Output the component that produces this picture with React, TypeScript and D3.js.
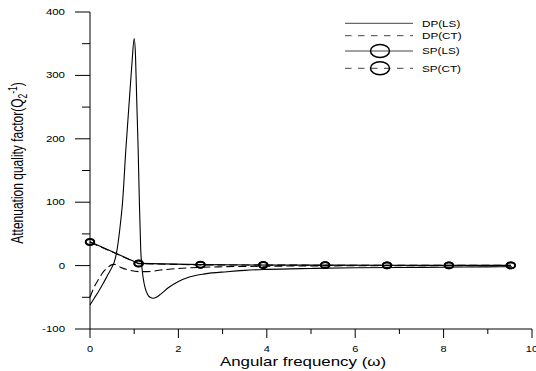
import React from "react";
import * as d3 from "d3";

const dpLsW = [0, 0.1, 0.2, 0.3, 0.4, 0.5, 0.55, 0.6, 0.67, 0.74, 0.81, 0.89, 0.95, 1.0, 1.03, 1.057, 1.09, 1.116, 1.148, 1.17, 1.2, 1.25, 1.3, 1.36, 1.43, 1.5, 1.6, 1.77, 2.0, 2.2, 2.6, 3.1, 3.5, 4, 5, 6, 7, 8, 9, 9.55];
const dpLsV = [-62, -51, -40, -28, -15, -2, 6, 20, 55, 103, 182, 261, 320, 358, 330, 261, 182, 103, 25, 1, -18, -36, -45, -50, -51.5, -50, -45, -35, -25, -19, -13, -9.6, -7.5, -6, -4.5, -3.5, -3, -2.5, -2, -1.8];

const dpCtW = [0, 0.1, 0.2, 0.3, 0.4, 0.5, 0.55, 0.7, 0.9, 1.1, 1.3, 1.6, 2.0, 2.5, 3, 4, 5, 6, 7, 8, 9, 9.55];
const dpCtV = [-50, -33, -21, -10, -3, 1.5, 2, -3, -7.5, -9.5, -9.5, -7, -4.5, -2.8, -1.8, -1, -0.5, -0.3, -0.2, -0.1, 0, 0];

const spW = [0, 1.1, 2.5, 3.92, 5.32, 6.72, 8.12, 9.52];
const spLsV = [37.5, 3.5, 1.5, 1, 0.7, 0.5, 0.4, 0.3];
const spCtV = [37, 3, 1.2, 0.8, 0.6, 0.4, 0.3, 0.3];

const xTicks = [0, 2, 4, 6, 8, 10];
const xMinor = [1, 3, 5, 7, 9];
const yTicks = [-100, 0, 100, 200, 300, 400];
const yMinor = [-50, 50, 150, 250, 350];

const legendNames = ["DP(LS)", "DP(CT)", "SP(LS)", "SP(CT)"];

const FONT = "'Liberation Sans', Arial, sans-serif";

export default function App() {
  const x = d3.scaleLinear().domain([0, 10]).range([90, 532]);
  const y = d3.scaleLinear().domain([-100, 400]).range([329, 12]);

  const smooth = d3
    .line<[number, number]>()
    .x((d) => x(d[0]))
    .y((d) => y(d[1]))
    .curve(d3.curveMonotoneX);
  const straight = d3
    .line<[number, number]>()
    .x((d) => x(d[0]))
    .y((d) => y(d[1]));

  const zip = (a: number[], b: number[]) => a.map((v, i) => [v, b[i]] as [number, number]);

  const legendY = [23.3, 35.7, 51, 68.3];

  return (
    <div style={{ position: "absolute", left: 0, top: 0, width: 536, height: 371, background: "#fff" }}>
      <svg width={536} height={371} style={{ display: "block" }} fontFamily={FONT}>
        <rect width={536} height={371} fill="#fff" />
        {/* axes */}
        <line x1={90} x2={90} y1={y(400)} y2={y(-100)} stroke="#000" strokeWidth={1} />
        <line x1={90} x2={x(10)} y1={y(-100)} y2={y(-100)} stroke="#000" strokeWidth={1} />
        {yTicks.map((t) => (
          <g key={"yt" + t}>
            <line x1={75} x2={90} y1={y(t)} y2={y(t)} stroke="#000" />
            <text
              transform={`translate(65,${y(t) + 3}) scale(1.35,1)`}
              textAnchor="end"
              fontSize={8.5}
              fill="#000"
            >
              {t}
            </text>
          </g>
        ))}
        {yMinor.map((t) => (
          <line key={"ym" + t} x1={82} x2={90} y1={y(t)} y2={y(t)} stroke="#000" />
        ))}
        {xTicks.map((t) => (
          <g key={"xt" + t}>
            <line x1={x(t)} x2={x(t)} y1={y(-100)} y2={y(-100) + 9} stroke="#000" />
            <text
              transform={`translate(${x(t)},352) scale(1.3,1)`}
              textAnchor="middle"
              fontSize={8.5}
              fill="#000"
            >
              {t}
            </text>
          </g>
        ))}
        {xMinor.map((t) => (
          <line key={"xm" + t} x1={x(t)} x2={x(t)} y1={y(-100)} y2={y(-100) + 5} stroke="#000" />
        ))}
        {/* titles */}
        <text transform="translate(303,366) scale(1.3,1)" textAnchor="middle" fontSize={13} fill="#000">
          Angular frequency (ω)
        </text>
        <text transform="translate(23,163) rotate(-90) scale(1,1.4)" textAnchor="middle" fontSize={12} fill="#000">
          Attenuation quality factor(Q
          <tspan fontSize={8.5} dy={3}>2</tspan>
          <tspan fontSize={8.5} dy={-7.5}>-1</tspan>
          <tspan dy={4.5}>)</tspan>
        </text>

        {/* series */}
        <path d={smooth(zip(dpLsW, dpLsV)) || ""} fill="none" stroke="#000" strokeWidth={1.1} />
        <path d={smooth(zip(dpCtW, dpCtV)) || ""} fill="none" stroke="#000" strokeWidth={1.1} strokeDasharray="8,4" />
        <path d={straight(zip(spW, spLsV)) || ""} fill="none" stroke="#000" strokeWidth={1.1} />
        <path d={straight(zip(spW, spCtV)) || ""} fill="none" stroke="#000" strokeWidth={1.1} strokeDasharray="8,4" />
        {spW.map((w, i) => (
          <ellipse key={"m1" + i} cx={x(w)} cy={y(spLsV[i])} rx={4.3} ry={3} fill="none" stroke="#000" strokeWidth={1.8} />
        ))}
        {spW.map((w, i) => (
          <ellipse key={"m2" + i} cx={x(w)} cy={y(spCtV[i])} rx={4.3} ry={3} fill="none" stroke="#000" strokeWidth={1.8} />
        ))}

        {/* legend */}
        {legendNames.map((name, i) => (
          <g key={name}>
            <line
              x1={345}
              x2={413}
              y1={legendY[i]}
              y2={legendY[i]}
              stroke="#444"
              strokeWidth={1}
              strokeDasharray={i % 2 === 1 ? "6.5,6.5" : undefined}
            />
            {i >= 2 && (
              <ellipse cx={380} cy={legendY[i]} rx={9.5} ry={6.5} fill="none" stroke="#000" strokeWidth={1.5} />
            )}
            <text
              transform={`translate(422,${legendY[i] + 3.2}) scale(1.3,1)`}
              fontSize={9}
              fill="#000"
            >
              {name}
            </text>
          </g>
        ))}
      </svg>
    </div>
  );
}
